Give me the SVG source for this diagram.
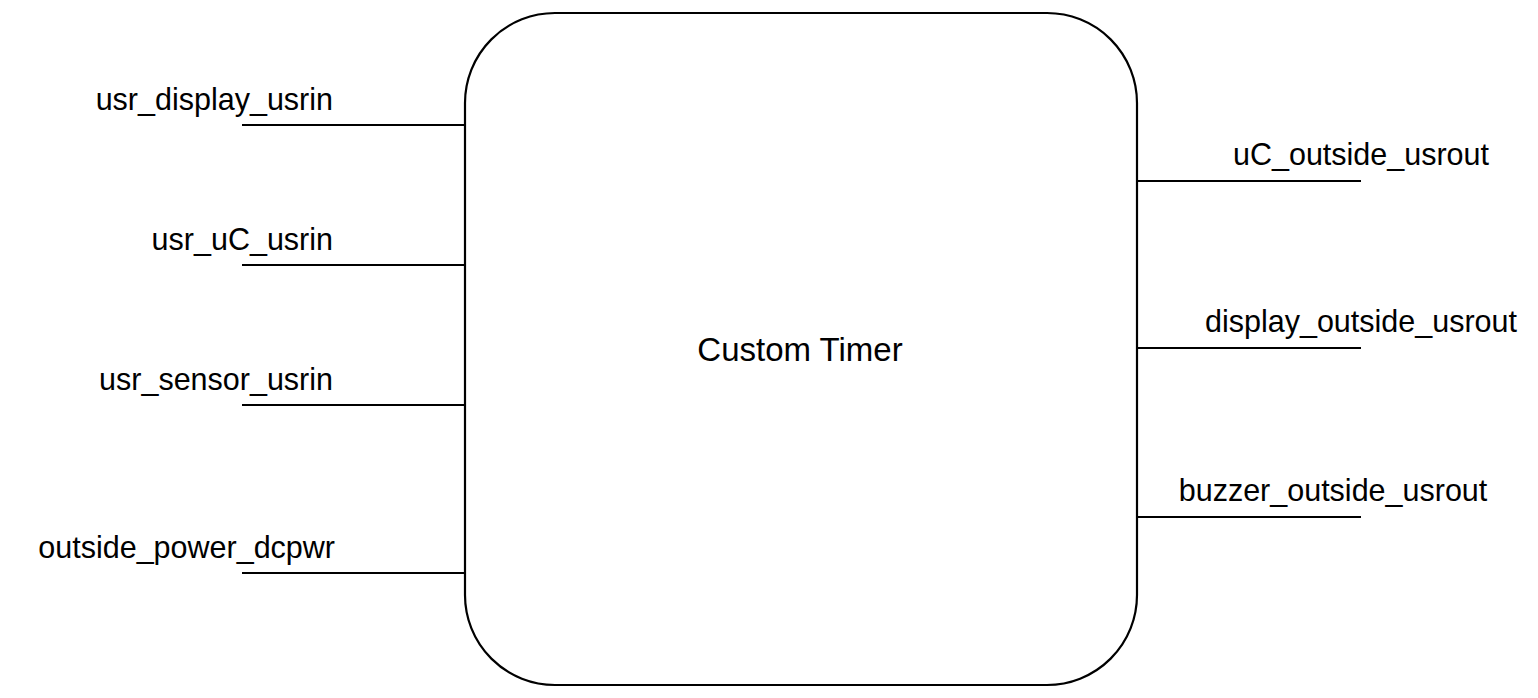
<svg xmlns="http://www.w3.org/2000/svg" width="1538" height="698" viewBox="0 0 1538 698">
<style>
.lbl{font-family:"Liberation Sans",Arial,Helvetica,sans-serif;font-size:30.5px;fill:#000}
.ttl{font-family:"Liberation Sans",Arial,Helvetica,sans-serif;font-size:33px;fill:#000}
.wire{stroke:#000;stroke-width:2.2;fill:none}
</style>
<rect width="1538" height="698" fill="#fff"/>
<g id="connectors">
<line class="wire" x1="242" y1="125" x2="465" y2="125"/>
<line class="wire" x1="242" y1="265" x2="465" y2="265"/>
<line class="wire" x1="242" y1="405" x2="465" y2="405"/>
<line class="wire" x1="242" y1="573" x2="465" y2="573"/>
<line class="wire" x1="1137" y1="181" x2="1361" y2="181"/>
<line class="wire" x1="1137" y1="348" x2="1361" y2="348"/>
<line class="wire" x1="1137" y1="517" x2="1361" y2="517"/>
</g>
<g id="custom_timer">
<rect x="465" y="13" width="672" height="672" rx="90" ry="90" fill="#fff" stroke="#000" stroke-width="2.2"/>
<text class="ttl" x="800" y="361" text-anchor="middle">Custom Timer</text>
</g>
<g id="labels">
<text class="lbl" x="333" y="110" text-anchor="end">usr_display_usrin</text>
<text class="lbl" x="333" y="250" text-anchor="end">usr_uC_usrin</text>
<text class="lbl" x="333" y="390" text-anchor="end">usr_sensor_usrin</text>
<text class="lbl" x="335" y="558" text-anchor="end">outside_power_dcpwr</text>
<text class="lbl" x="1361" y="165" text-anchor="middle">uC_outside_usrout</text>
<text class="lbl" x="1361" y="332" text-anchor="middle">display_outside_usrout</text>
<text class="lbl" x="1333" y="501" text-anchor="middle">buzzer_outside_usrout</text>
</g>
</svg>
